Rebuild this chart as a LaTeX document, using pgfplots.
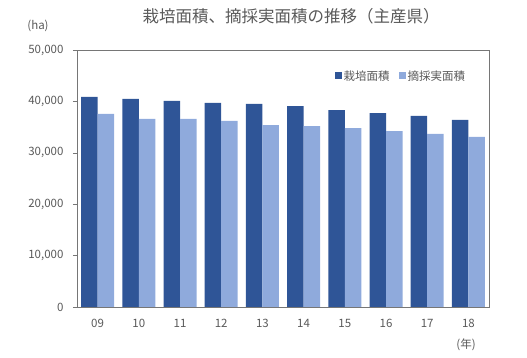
\documentclass[border=0pt]{standalone}
\usepackage{fontspec}
\setmainfont{Noto Sans CJK JP}
\usepackage{pgfplots}
\pgfplotsset{compat=1.18}
\definecolor{dark}{HTML}{2F5597}
\definecolor{light}{HTML}{8FAADC}
\definecolor{txt}{HTML}{595959}
\definecolor{frame}{HTML}{767676}
\begin{document}
\begin{tikzpicture}[x=1pt,y=1pt]
\useasboundingbox (0,0) rectangle (527,358);
\begin{axis}[
  at={(77pt,51pt)}, anchor=south west,
  scale only axis, width=412pt, height=257pt,
  ymin=0, ymax=50000, xmin=-0.5, xmax=9.5,
  ybar=0pt, bar width=16.5pt,
  xtick={0,...,9}, xticklabels={09,10,11,12,13,14,15,16,17,18},
  major x tick style={draw=none},
  extra x ticks={0.5,1.5,...,8.5}, extra x tick labels={},
  extra x tick style={tick align=inside, major tick length=4pt, tick style={draw=frame}},
  ytick={0,10000,...,50000},
  ytick pos=left, xtick pos=bottom,
  scaled y ticks=false,
  tick align=outside, major tick length=4pt,
  ytick style={draw=frame},
  /pgf/number format/.cd, 1000 sep={,}, assume math mode=true, /pgfplots/.cd,
  tick label style={font=\fontsize{11.5}{12}\selectfont, text=txt},
  xticklabel style={yshift=-5pt},
  yticklabel style={xshift=-6pt},
  axis line style={draw=frame},
  legend style={at={(0.625,0.899)}, anchor=west, draw=none, fill=none,
    legend columns=2, font=\fontsize{11.5}{13}\selectfont, text=txt,
    /tikz/every even column/.append style={column sep=7pt},
    inner sep=0pt},
  legend image code/.code={\fill[#1] (0pt,-3.5pt) rectangle (7pt,3.5pt);},
  clip=false,
]
\addplot[fill=dark, draw=none] coordinates {
 (0,40900) (1,40500) (2,40100) (3,39700) (4,39500)
 (5,39100) (6,38300) (7,37700) (8,37200) (9,36400)};
\addplot[fill=light, draw=none] coordinates {
 (0,37550) (1,36600) (2,36600) (3,36200) (4,35400)
 (5,35200) (6,34800) (7,34200) (8,33700) (9,33100)};
\legend{栽培面積,摘採実面積}
\end{axis}
\node[text=txt, font=\fontsize{16.5}{18}\selectfont] at (291,342) {栽培面積、摘採実面積の推移（主産県）};
\node[text=txt, font=\fontsize{11.5}{12}\selectfont] at (38,332) {(ha)};
\node[text=txt, font=\fontsize{11.5}{12}\selectfont] at (466,13) {(年)};
\end{tikzpicture}
\end{document}
